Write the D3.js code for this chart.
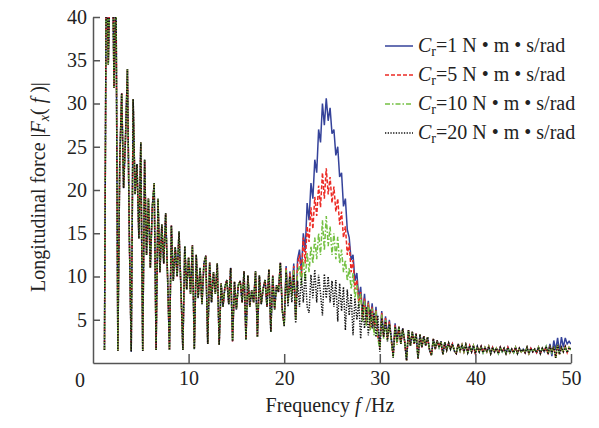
<!DOCTYPE html>
<html><head><meta charset="utf-8">
<script src="https://cdn.jsdelivr.net/npm/d3@7"></script>
<style>
body{margin:0;background:#fff}
svg text{font-family:"Liberation Serif","Times New Roman",serif;fill:#222}
</style>
</head><body><svg id="chart" width="599" height="428"></svg>
<script>
// ---- data (step 0.2 Hz starting at 1.2 Hz) ----
const freqStart = 1.2, freqStep = 0.2;
// 1.2 .. 19.8 Hz : all four curves coincide
const lowBand = [1.5, 48, 34.5, 46, 50, 31.8, 45, 1.4, 23.5, 31.2,
  20.2, 26, 34, 14.6, 1.3, 30.5, 19.5, 23, 14.4, 25.5,
  1.4, 23.5, 12.5, 19, 11, 18, 20.8, 1.5, 19, 10.5,
  16, 11.5, 17.3, 10, 1.5, 15.9, 9.5, 13.4, 10, 15.2,
  8.5, 1.5, 13.5, 8.5, 12.2, 8, 13.6, 1.6, 12.5, 7.5,
  11, 6.8, 11.5, 12.4, 2.2, 11.6, 7, 10.5, 8, 11.5,
  2.1, 9.2, 6.5, 8.8, 9.6, 6.8, 11, 2.5, 9.4, 6.2,
  9, 9.5, 7, 10.6, 2.7, 10.1, 6.5, 8.4, 7, 10.6,
  3.0, 10.1, 6.8, 8.6, 9.6, 6.5, 10.8, 3.6, 10.1, 6.2,
  9, 8.2, 11.6, 6.1];
// 20.0 .. 31.8 Hz : resonance region, one array per damping value
const midC1 = [4.5, 11.2, 7, 10.6, 8, 11.5, 5, 12, 13.1, 10.5,
  15, 13, 18.5, 16.5, 20.8, 19, 23.5, 22, 27, 25.5,
  30, 27.5, 30.6, 28, 29.5, 26.5, 27, 24, 25, 21.5,
  22, 18.1, 19, 15.4, 14.5, 11.9, 12.5, 9.5, 10.4, 7.5,
  8.8, 5.5, 8, 5, 7.2, 4.5, 6.9, 4, 6.5, 3.5,
  2.2, 6, 3.2, 5.4, 3, 5, 2.8, 0.9, 4.6, 2.5];
const midC5 = [4.4, 11, 7, 10.4, 7.8, 11.2, 5, 11.5, 12.5, 10,
  14.5, 11.5, 15.8, 14, 18, 15.5, 19.2, 17, 20.5, 18,
  22, 19, 22.5, 19.5, 21.5, 18.5, 20.4, 17.5, 19, 16,
  17.5, 14.5, 15.8, 12.5, 13.9, 10.5, 11.9, 8.5, 9.6, 7,
  8.2, 5, 7.5, 4.5, 7, 4, 6.5, 3.5, 6.2, 3,
  1.8, 5.8, 3, 5.2, 2.8, 4.8, 2.6, 0.8, 4.4, 2.3];
const midC10 = [4.3, 10.8, 7, 10.2, 7.6, 10.8, 5, 10.5, 11.2, 9,
  12, 9.5, 12.8, 10.5, 13.5, 11.5, 14.5, 12, 15, 12.5,
  16.5, 13, 17, 13.5, 15.8, 12.5, 15, 12, 14.6, 11.5,
  13.1, 10.5, 11.9, 9.5, 11, 8.5, 10.4, 7.5, 9, 6.5,
  8, 4.8, 7.2, 4.2, 6.8, 3.8, 6.3, 3.2, 6, 2.8,
  1.6, 5.6, 2.8, 5, 2.6, 4.6, 2.4, 0.7, 4.2, 2.1];
const midC20 = [4.2, 10.5, 6.5, 10, 7, 10.2, 4.6, 9.5, 6.5, 10,
  7, 10.5, 6.5, 5.8, 10.2, 7.5, 10.8, 7, 10.2, 8,
  5.5, 10.3, 7.5, 10, 7, 9.5, 6.5, 9.6, 4.8, 9.2,
  6, 8.8, 3.8, 8.5, 5.5, 8, 3.2, 7.5, 5, 7,
  2.8, 6.8, 4, 6.5, 3.2, 6.2, 4, 5.8, 3, 5.5,
  1.3, 5.2, 3, 4.8, 2.5, 4.5, 3, 0.6, 4.2, 2.5];
// 32.0 .. 47.4 Hz : decaying tail, shared
const tailBand = [4.2, 2.2, 4, 2.5, 0.3, 3.8, 2, 3.6, 2.2, 3.4,
  0.5, 3.3, 1.8, 3.1, 2, 3, 1.5, 0.9, 2.8, 1.6,
  2.6, 1.8, 2.5, 1, 2.4, 1.5, 2.3, 1.6, 2.2, 1.4,
  1.1, 2.2, 1.4, 2.1, 1.3, 2.1, 1.2, 2, 1.3, 2,
  1.1, 1.9, 1.3, 1.9, 1.2, 1.8, 1.3, 1.9, 1.1, 1.8,
  1.3, 1.7, 1.1, 1.8, 1.3, 1.7, 1.1, 1.8, 1.2, 1.6,
  1.2, 1.8, 1.1, 1.7, 1.3, 1.6, 1.2, 1.8, 1.1, 1.7,
  1.3, 1.6, 1.2, 1.8, 1.1, 1.7, 1.3, 1.9];
// 47.6 .. 50.0 Hz
const endC1 = [1.2, 2.2, 0.8, 2.6, 1.5, 2.9, 1.2, 3.0, 1.8, 2.9, 2.2, 2.5, 2.2];
const endOthers = [1.0, 2.0, 1.2, 1.9, 0.6, 2.1, 1.0, 1.8, 1.3, 1.9, 1.2, 1.8, 1.5];

const seriesNames = ["1", "5", "10", "20"];
const seriesColors = ["#34429a", "#ec2a24", "#74c043", "#111111"];
const seriesDash = [null, "4,2", "5,2,1.5,2", "1.3,1.4"];
const xTicks = [10, 20, 30, 40, 50];
const yTicks = [5, 10, 15, 20, 25, 30, 35, 40];

const seriesValues = [
  lowBand.concat(midC1, tailBand, endC1),
  lowBand.concat(midC5, tailBand, endOthers),
  lowBand.concat(midC10, tailBand, endOthers),
  lowBand.concat(midC20, tailBand, endOthers)
];
const freq = d3.range(seriesValues[0].length).map(i => Math.round((freqStart + freqStep * i) * 10) / 10);

// ---- drawing ----
const svg = d3.select("#chart");
const x = d3.scaleLinear().domain([0, 50]).range([93, 571]);
const y = d3.scaleLinear().domain([0, 40]).range([363, 17]);

svg.append("clipPath").attr("id", "plotclip").append("rect")
  .attr("x", x(0)).attr("y", y(40)).attr("width", x(50) - x(0)).attr("height", y(0) - y(40));

const line = d3.line().x((d, i) => x(freq[i])).y(d => y(d));
const g = svg.append("g").attr("clip-path", "url(#plotclip)");
seriesValues.forEach((vals, k) => {
  g.append("path").datum(vals).attr("d", line)
    .attr("fill", "none").attr("stroke", seriesColors[k])
    .attr("stroke-width", 1.5).attr("stroke-linejoin", "miter")
    .attr("stroke-dasharray", seriesDash[k]);
});

const axisColor = "#555";
const xAxis = svg.append("g").attr("transform", `translate(0,${y(0)})`)
  .call(d3.axisBottom(x).tickValues(xTicks).tickSizeInner(-9).tickSizeOuter(0).tickPadding(8).tickFormat(d3.format("d")));
const yAxis = svg.append("g").attr("transform", `translate(${x(0)},0)`)
  .call(d3.axisLeft(y).tickValues(yTicks).tickSizeInner(-7).tickSizeOuter(0).tickPadding(6).tickFormat(d3.format("d")));
[xAxis, yAxis].forEach(a => {
  a.select(".domain").attr("stroke", axisColor).attr("stroke-width", 1.5);
  a.selectAll(".tick line").attr("stroke", axisColor).attr("stroke-width", 1.5);
  a.selectAll(".tick text").attr("font-size", 20).attr("fill", "#222")
    .style("font-family", '"Liberation Serif","Times New Roman",serif');
});
svg.append("text").attr("x", x(0) - 13).attr("y", y(0) + 24).attr("text-anchor", "middle")
  .attr("font-size", 20).text("0");

// axis titles
const xt = svg.append("text").attr("x", 330).attr("y", 412).attr("text-anchor", "middle").attr("font-size", 20);
xt.append("tspan").text("Frequency ");
xt.append("tspan").attr("font-style", "italic").text("f");
xt.append("tspan").text(" /Hz");

const yt = svg.append("text").attr("transform", "translate(45,187) rotate(-90)")
  .attr("text-anchor", "middle").attr("font-size", 20);
yt.append("tspan").text("Longitudinal force |");
yt.append("tspan").attr("font-style", "italic").text("F");
yt.append("tspan").attr("font-style", "italic").attr("font-size", 14).attr("dy", 4).text("x");
yt.append("tspan").attr("dy", -4).text("( ");
yt.append("tspan").attr("font-style", "italic").text("f");
yt.append("tspan").text(" )|");

// legend
const legendY = [46, 75, 104, 133];
seriesNames.forEach((name, k) => {
  const ly = legendY[k];
  svg.append("line").attr("x1", 385).attr("x2", 413).attr("y1", ly).attr("y2", ly)
    .attr("stroke", seriesColors[k]).attr("stroke-width", 1.5)
    .attr("stroke-dasharray", seriesDash[k]);
  const t = svg.append("text").attr("x", 418).attr("y", ly + 6).attr("font-size", 20);
  t.append("tspan").attr("font-style", "italic").text("C");
  t.append("tspan").attr("font-size", 14).attr("dy", 4).text("r");
  t.append("tspan").attr("dy", -4).text("=" + name + " N • m • s/rad");
});
</script>
</body></html>
